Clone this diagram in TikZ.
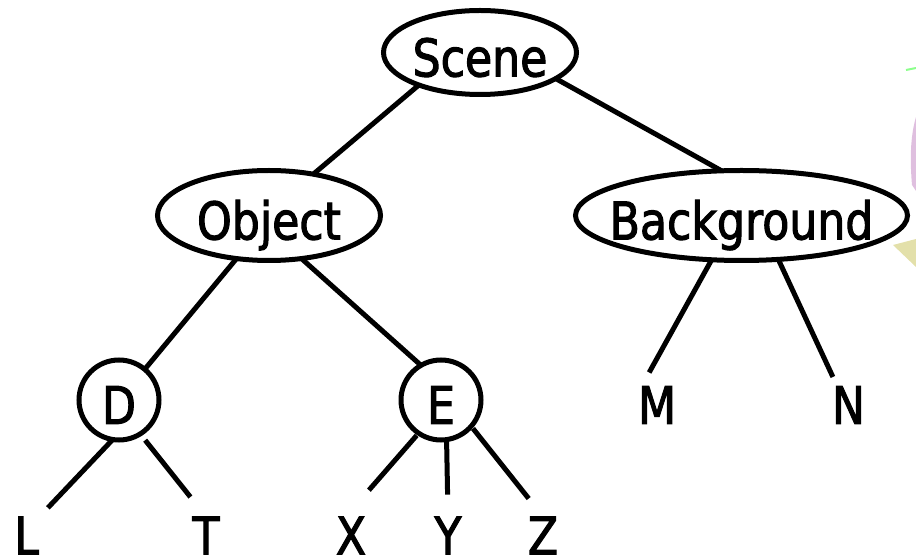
\documentclass[tikz,border=0pt]{standalone}
\usepackage{fontspec}
\setmainfont{DejaVu Sans}[FakeStretch=0.85,FakeBold=2]
\usetikzlibrary{shapes.geometric}
\begin{document}
\begin{tikzpicture}[x=1pt,y=1pt,
  every node/.style={inner sep=0pt, outer sep=0pt, font=\fontsize{52}{60}\selectfont},
  bubble/.style={draw, line width=5pt, ellipse, inner xsep=-60pt, text height=47.9pt, text depth=0pt},
  ring/.style={draw, line width=5pt, circle, minimum size=80pt, text height=47.9pt, text depth=0pt},
  leaf/.style={text height=37.9pt, text depth=0pt},
  edge/.style={line width=5pt}]
\useasboundingbox (0,0) rectangle (916,557);

% faint clip-art fragments on the right border
\fill[violet!25!white] (916,440) .. controls (910,420) and (910,395) .. (912,372) -- (916,366) -- cycle;
\draw[green!45!white, line width=2pt] (906,487) -- (916,489);
\fill[olive!25!white] (893,312) -- (916,318) -- (916,290) -- cycle;

% tree nodes
\node[bubble, minimum width=193pt, minimum height=84pt] (scene) at (480,504.5) {Scene};
\node[bubble, minimum width=223pt, minimum height=90pt] (object) at (269,341.5) {Object};
\node[bubble, minimum width=332pt, minimum height=90pt] (background) at (741.5,341.5) {Background};
\node[ring] (d) at (119,157) {D};
\node[ring] (e) at (441,157) {E};
\node[leaf] (m) at (657,152) {M};
\node[leaf] (n) at (848.5,152) {N};
\node[leaf] (l) at (26.6,21.5) {L};
\node[leaf] (t) at (206,21.5) {T};
\node[leaf] (x) at (351,21.5) {X};
\node[leaf] (y) at (448,21.5) {Y};
\node[leaf] (z) at (543,21.5) {Z};

% connectors
\draw[edge] (scene.-152.8) -- (object.43);
\draw[edge] (scene.-19.7) -- (background.114.7);
\draw[edge] (object.-127) -- (d.50.8);
\draw[edge] (object.-53.4) -- (e.120.3);
\draw[edge, shorten >=15.5pt] (background.-124.6) -- (m.129);
\draw[edge, shorten >=10pt] (background.-50) -- (n.121);
\draw[edge, shorten >=13pt] (d.-99) -- (l.56);
\draw[edge, shorten <=8pt, shorten >=25pt] (d.-58.6) -- (t.north);
\draw[edge, shorten <=3pt, shorten >=35pt] (e.-124.8) -- (x.105);
\draw[edge, shorten >=22pt] (e.-82) -- (y.north);
\draw[edge, shorten <=3pt, shorten >=23pt] (e.-41.3) -- (z.north);
\end{tikzpicture}
\end{document}
